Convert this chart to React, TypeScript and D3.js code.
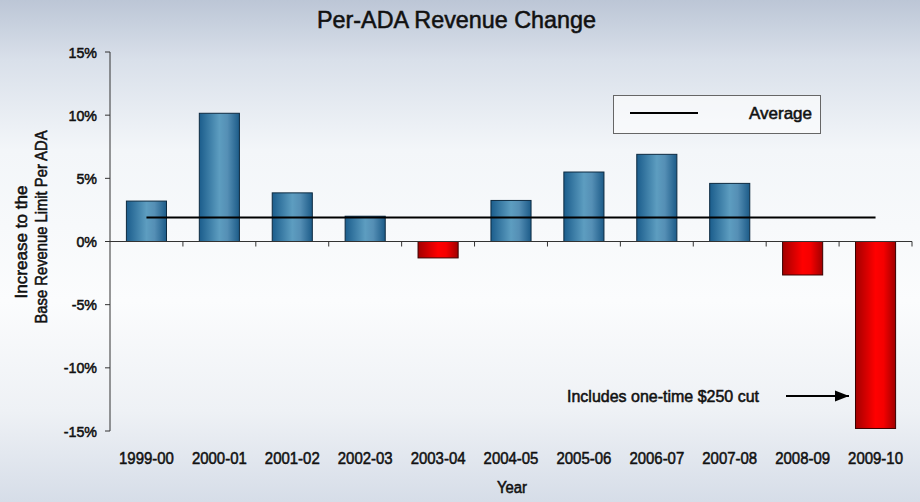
import React, { useEffect } from "react";
import * as d3 from "d3";

const years = ["1999-00", "2000-01", "2001-02", "2002-03", "2003-04", "2004-05", "2005-06", "2006-07", "2007-08", "2008-09", "2009-10"];
const change = [3.2, 10.15, 3.85, 2.0, -1.3, 3.25, 5.5, 6.9, 4.6, -2.65, -14.8];
const average = 1.9;
const yTicks = [15, 10, 5, 0, -5, -10, -15];

const W = 920, H = 502;
const margin = { top: 52, right: 8, bottom: 71, left: 110 };
const font = "'Liberation Sans', Arial, Helvetica, sans-serif";

// slightly heavier text, like the source rendering
const ink = { fill: "#111", stroke: "#111", strokeWidth: 0.55 };

const App = () => {
    useEffect(() => { document.body.style.margin = "0"; }, []);

    const x = d3.scaleBand().domain(years).range([margin.left, W - margin.right]).paddingInner(0.45).paddingOuter(0.225);
    const y = d3.scaleLinear().domain([-15, 15]).range([H - margin.bottom, margin.top]);
    const step = x.step();
    const x0 = margin.left;
    const xEnd = x0 + step * years.length;
    const avgLine = d3.line<number>()
        .x((d) => d)
        .y(() => y(average));
    const first = x(years[0])! + x.bandwidth() / 2;
    const last = x(years[years.length - 1])! + x.bandwidth() / 2;

    return (
        <svg width={W} height={H} style={{ display: "block" }} fontFamily={font}>
            <defs>
                <linearGradient id="bg" x1="0" y1="0" x2="0" y2="1">
                    <stop offset="0" stopColor="#bcc6d6" />
                    <stop offset="0.12" stopColor="#d9e0ea" />
                    <stop offset="0.3" stopColor="#f3f6f9" />
                    <stop offset="0.6" stopColor="#fbfcfd" />
                    <stop offset="0.82" stopColor="#eef1f5" />
                    <stop offset="1" stopColor="#d6dde8" />
                </linearGradient>
                <linearGradient id="blue" x1="0" y1="0" x2="1" y2="0">
                    <stop offset="0" stopColor="#1b5d8c" />
                    <stop offset="0.5" stopColor="#5d9dc0" />
                    <stop offset="0.7" stopColor="#558fb5" />
                    <stop offset="1" stopColor="#1c5b88" />
                </linearGradient>
                <linearGradient id="red" x1="0" y1="0" x2="1" y2="0">
                    <stop offset="0" stopColor="#a30000" />
                    <stop offset="0.5" stopColor="#ff0000" />
                    <stop offset="0.7" stopColor="#f50000" />
                    <stop offset="1" stopColor="#a00000" />
                </linearGradient>
                <marker id="arrow" viewBox="0 0 10 10" refX="10" refY="5" markerWidth="7" markerHeight="7" orient="auto">
                    <path d="M0,1 L10,5 L0,9 z" fill="#000" />
                </marker>
            </defs>
            <rect width={W} height={H} fill="url(#bg)" />

            <text x={317} y={28} fontSize={24} textLength={279} lengthAdjust="spacingAndGlyphs" {...ink}>Per-ADA Revenue Change</text>

            {/* bars */}
            {years.map((yr, i) => {
                const v = change[i];
                return (
                    <rect key={yr} x={x(yr)} width={x.bandwidth()}
                        y={y(Math.max(0, v))} height={Math.abs(y(v) - y(0))}
                        fill={v >= 0 ? "url(#blue)" : "url(#red)"}
                        stroke={v >= 0 ? "#0d2a40" : "#3a0000"} strokeWidth={1} />
                );
            })}

            {/* y axis */}
            <line x1={x0} x2={x0} y1={y(15)} y2={y(-15)} stroke="#333" strokeWidth={1} />
            {yTicks.map((t) => (
                <g key={t}>
                    <line x1={x0 - 5} x2={x0} y1={y(t)} y2={y(t)} stroke="#333" />
                    <text transform={`translate(97,${y(t) + 5.5}) scale(0.92,1)`} textAnchor="end" fontSize={15.5} {...ink}>{t}%</text>
                </g>
            ))}

            {/* x axis at zero */}
            <line x1={x0} x2={xEnd} y1={y(0)} y2={y(0)} stroke="#333" strokeWidth={1} />
            {d3.range(1, years.length + 1).map((i) => (
                <line key={i} x1={x0 + i * step} x2={x0 + i * step} y1={y(0)} y2={y(0) + 5} stroke="#333" />
            ))}
            {years.map((yr) => (
                <text key={yr} transform={`translate(${x(yr)! + x.bandwidth() / 2},464) scale(0.88,1)`} textAnchor="middle" fontSize={17} {...ink}>{yr}</text>
            ))}
            <text transform="translate(512,493) scale(0.9,1)" textAnchor="middle" fontSize={16.5} {...ink}>Year</text>

            {/* y title */}
            <text transform="translate(27,242) rotate(-90)" textAnchor="middle" fontSize={16.5} textLength={113} lengthAdjust="spacingAndGlyphs" {...ink}>Increase to the</text>
            <text transform="translate(47,227) rotate(-90)" textAnchor="middle" fontSize={16.5} textLength={193} lengthAdjust="spacingAndGlyphs" {...ink}>Base Revenue Limit Per ADA</text>

            {/* average */}
            <path d={avgLine([first, last]) || ""} stroke="#000" strokeWidth={2} fill="none" />

            {/* legend */}
            <rect x={613.5} y={95.5} width={207} height={38} fill="#fff" fillOpacity={0.6} stroke="#666" strokeWidth={1} />
            <line x1={630} x2={698} y1={113} y2={113} stroke="#000" strokeWidth={2} />
            <text x={812} y={118.5} textAnchor="end" fontSize={17} textLength={63} lengthAdjust="spacingAndGlyphs" {...ink}>Average</text>

            {/* annotation */}
            <text x={567} y={402} fontSize={16.5} textLength={192} lengthAdjust="spacingAndGlyphs" {...ink}>Includes one-time $250 cut</text>
            <line x1={786} x2={849} y1={396} y2={396} stroke="#000" strokeWidth={2} markerEnd="url(#arrow)" />
        </svg>
    );
};

export default App;
